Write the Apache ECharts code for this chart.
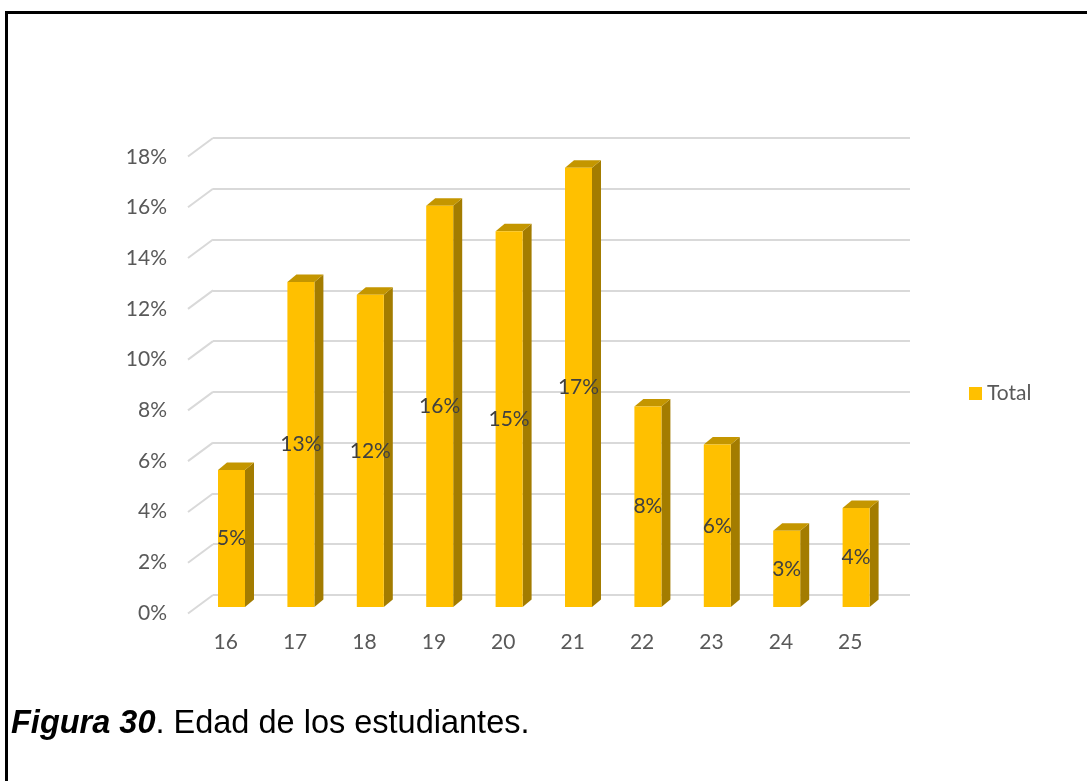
<!DOCTYPE html>
<html>
<head>
<meta charset="utf-8">
<script src="https://cdn.jsdelivr.net/npm/echarts@6/dist/echarts.min.js"></script>
<style>
html,body{margin:0;padding:0;background:#fff;}
#chart{width:1087px;height:781px;}
</style>
</head>
<body>
<div id="chart"></div>
<script>
// ---- data ----
var categories = ['16','17','18','19','20','21','22','23','24','25'];
var totalValues = [0.054, 0.128, 0.123, 0.158, 0.148, 0.173, 0.079, 0.064, 0.030, 0.039];
var yTicks = [0, 0.02, 0.04, 0.06, 0.08, 0.10, 0.12, 0.14, 0.16, 0.18];
var seriesName = 'Total';
var captionBold = 'Figura 30';
var captionRest = '. Edad de los estudiantes.';

var FONT = 'Lato';
var FS = 21;
var chart = echarts.init(document.getElementById('chart'), null, {renderer: 'canvas'});

function pct(v){ return Math.round(v * 100) + '%'; }

var BAR_W = 27, DX = 9, DY = 7.5;

var option = {
  animation: false,
  backgroundColor: '#ffffff',
  legend: {
    data: [seriesName],
    left: 964, top: 378,
    icon: 'rect', itemWidth: 13, itemHeight: 13, itemGap: 5,
    textStyle: {color: '#595959', fontFamily: FONT, fontSize: FS}
  },
  grid: [
    {left: 213, top: 138, width: 697, height: 457},
    {left: 196.8, top: 150, width: 694, height: 457},
    {left: 191, top: 157, width: 694, height: 456}
  ],
  xAxis: [
    {gridIndex: 0, type: 'value', min: 0, max: 1, show: false},
    {gridIndex: 1, type: 'category', data: categories, show: false},
    {gridIndex: 2, type: 'category', data: categories,
     axisLine: {show: false}, axisTick: {show: false},
     axisLabel: {color: '#595959', fontFamily: FONT, fontSize: FS, margin: 19}}
  ],
  yAxis: [
    {gridIndex: 0, type: 'value', min: 0, max: 0.18, interval: 0.02,
     axisLine: {show: false}, axisTick: {show: false}, axisLabel: {show: false},
     splitLine: {show: true, lineStyle: {color: '#D9D9D9', width: 2}}},
    {gridIndex: 1, type: 'value', min: 0, max: 0.18, interval: 0.02, show: false,
     splitLine: {show: false}},
    {gridIndex: 2, type: 'value', min: 0, max: 0.18, interval: 0.02,
     axisLine: {show: false}, axisTick: {show: false}, splitLine: {show: false},
     axisLabel: {color: '#595959', fontFamily: FONT, fontSize: FS, margin: 24,
       formatter: function(v){ return pct(v); }}}
  ],
  series: [
    {
      type: 'custom', name: '_floor', xAxisIndex: 0, yAxisIndex: 0,
      data: yTicks.map(function(t){ return [0, t]; }),
      silent: true,
      renderItem: function(params, api){
        var p = api.coord([0, api.value(1)]);
        return {type: 'line', shape: {x1: p[0] - 25, y1: p[1] + 18.5, x2: p[0], y2: p[1]},
                style: {stroke: '#D9D9D9', lineWidth: 2}};
      }
    },
    {
      type: 'custom', name: seriesName, xAxisIndex: 1, yAxisIndex: 1,
      itemStyle: {color: '#FFC000'},
      data: totalValues.map(function(v, i){ return [i, v]; }),
      renderItem: function(params, api){
        var idx = api.value(0), val = api.value(1);
        var top = api.coord([idx, val]);
        var base = api.coord([idx, 0]);
        var x0 = top[0] - BAR_W / 2, yT = top[1], yB = base[1];
        return {
          type: 'group',
          children: [
            {type: 'polygon', shape: {points: [[x0 + BAR_W, yT], [x0 + BAR_W + DX, yT - DY], [x0 + BAR_W + DX, yB - DY], [x0 + BAR_W, yB]]},
             style: {fill: '#A37C00'}},
            {type: 'polygon', shape: {points: [[x0, yT], [x0 + DX, yT - DY], [x0 + BAR_W + DX, yT - DY], [x0 + BAR_W, yT]]},
             style: {fill: '#C49600'}},
            {type: 'rect', shape: {x: x0, y: yT, width: BAR_W, height: yB - yT},
             style: {fill: '#FFC000'}},
            {type: 'text', x: x0 + BAR_W / 2, y: (yT + yB) / 2,
             style: {text: pct(val), fill: '#404040', font: FS + 'px ' + FONT, align: 'center', verticalAlign: 'middle'}}
          ]
        };
      }
    }
  ],
  graphic: [
    {type: 'polyline', shape: {points: [[6.5, 781], [6.5, 12.5], [1087, 12.5]]},
     style: {stroke: '#000', lineWidth: 3, fill: null}},
    {type: 'text', left: 11, top: 708,
     style: {
       text: '{b|' + captionBold + '}{r|' + captionRest + '}',
       rich: {
         b: {fontFamily: 'Liberation Sans', fontSize: 32.5, fontWeight: 'bold', fontStyle: 'italic', fill: '#000'},
         r: {fontFamily: 'Liberation Sans', fontSize: 32.5, fill: '#000'}
       }
     }}
  ]
};
chart.setOption(option);
</script>
</body>
</html>
